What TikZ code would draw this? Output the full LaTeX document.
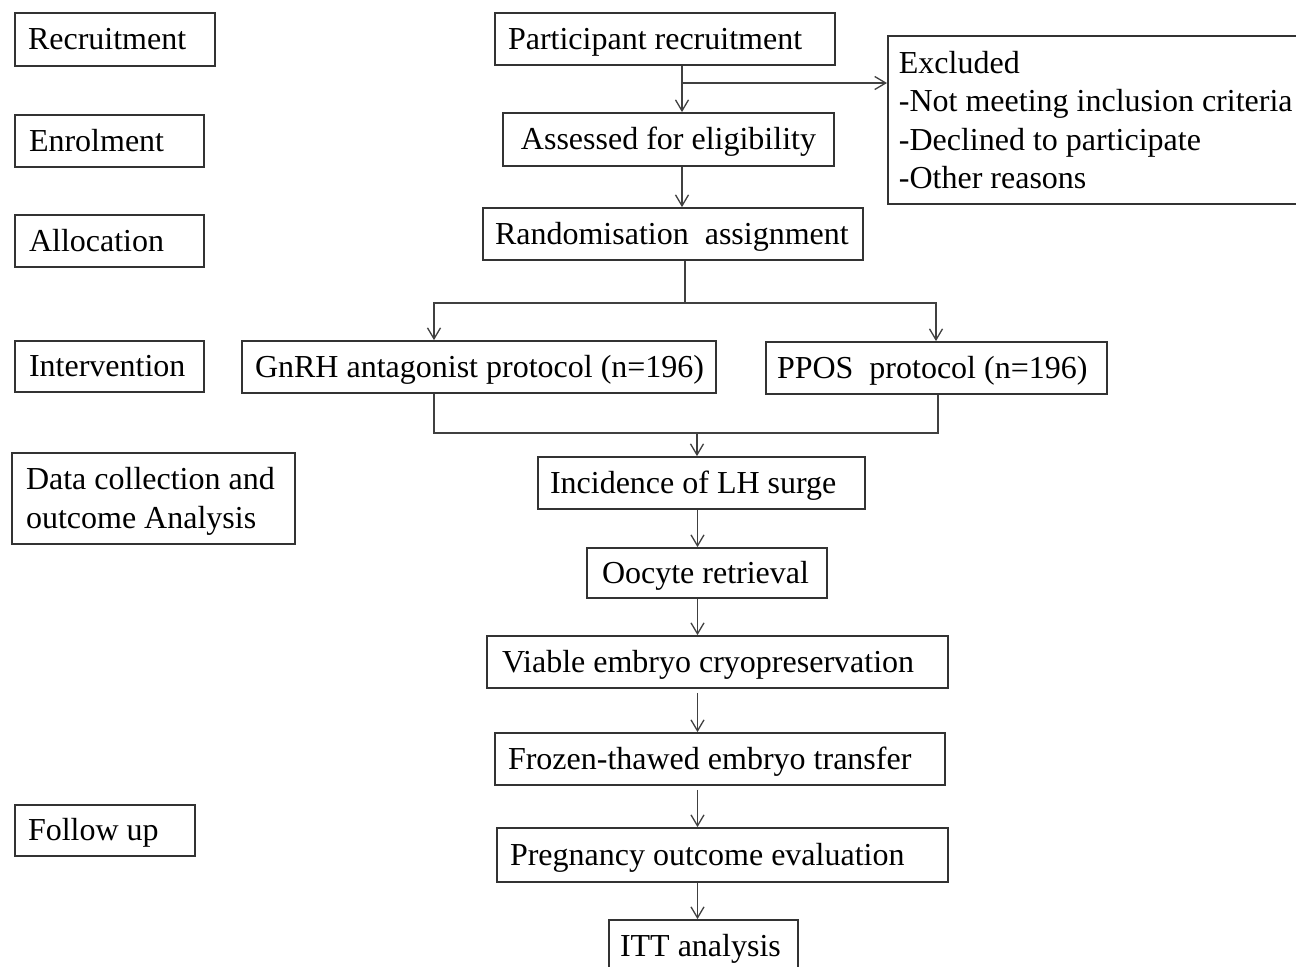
\documentclass[tikz,border=0pt]{standalone}
\usepackage{fontspec}
\setmainfont{Liberation Serif}
\usetikzlibrary{arrows.meta}
\newcommand{\boxtxt}[2]{\makebox[#1][l]{#2}}
\newcommand{\linestack}[2]{\raisebox{0pt}[\dimexpr\height+#1\relax]{\begin{tabular}[c]{@{}l@{}}#2\end{tabular}}}
\begin{document}
\begin{tikzpicture}[x=0.5pt,y=-0.5pt,
  bx/.style={draw=black!80, line width=0.9pt, inner ysep=0pt, fill=white,
    font=\fontsize{16}{19.25}\selectfont},
  sl/.style={bx, text height=11.5pt, text depth=1.5pt},
  ln/.style={draw=black!75, line width=0.65pt},
  arr/.style={ln, -{Straight Barb[length=5.5pt,width=6.5pt,line width=0.65pt]}}]
\useasboundingbox (0,0) rectangle (1296,966);
\clip (0,0) rectangle (1296,966);
\fill[white] (0,0) rectangle (1296,966);

% left column stage labels
\node[sl, minimum width=100pt, minimum height=26.5pt, inner xsep=6.5pt] (recr) at (115,39.5) {\boxtxt{87pt}{Recruitment}};
\node[sl, minimum width=94.5pt, minimum height=26pt, inner xsep=7pt] (enrol) at (109.5,141) {\boxtxt{80.5pt}{Enrolment}};
\node[sl, minimum width=94.5pt, minimum height=26pt, inner xsep=7pt] (alloc) at (109.5,241) {\boxtxt{80.5pt}{Allocation}};
\node[sl, minimum width=94.5pt, minimum height=25.5pt, inner xsep=7pt] (interv) at (109.5,366.5) {\boxtxt{80.5pt}{Intervention}};
\node[bx, minimum width=141.5pt, minimum height=45.5pt, inner xsep=7pt] (data) at (153.5,498.5) {\boxtxt{127.5pt}{\linestack{3pt}{Data collection and\\outcome Analysis}}};
\node[sl, minimum width=90pt, minimum height=25.5pt, inner xsep=6.5pt] (follow) at (105,830.5) {\boxtxt{77pt}{Follow up}};

% main flow
\node[sl, minimum width=170pt, minimum height=26pt, inner xsep=6.5pt] (part) at (665,39) {\boxtxt{157pt}{Participant recruitment}};
\node[sl, minimum width=165.5pt, minimum height=26.5pt, inner xsep=6pt] (assess) at (668.5,139.5) {Assessed for eligibility};
\node[sl, minimum width=190pt, minimum height=26pt, inner xsep=6pt] (rand) at (673,234) {\boxtxt{178pt}{Randomisation\ \ assignment}};
\node[bx, anchor=north west, minimum width=215pt, minimum height=84pt, inner xsep=5.5pt] (excl) at (887,35) {\boxtxt{204pt}{\linestack{3.5pt}{Excluded\\-Not meeting inclusion criteria\\-Declined to participate\\-Other reasons}}};
\node[sl, minimum width=237pt, minimum height=26pt, inner xsep=6.5pt] (gnrh) at (479,367) {\boxtxt{224pt}{GnRH antagonist protocol (n=196)}};
\node[sl, minimum width=170.5pt, minimum height=26pt, inner xsep=5.5pt] (ppos) at (936.5,368) {\boxtxt{159.5pt}{PPOS\ \ protocol (n=196)}};
\node[sl, minimum width=163.5pt, minimum height=26pt, inner xsep=6pt] (inc) at (701.5,483) {\boxtxt{151.5pt}{Incidence of LH surge}};
\node[sl, minimum width=120pt, minimum height=25pt, inner xsep=7.5pt] (ooc) at (707,573) {\boxtxt{105pt}{Oocyte retrieval}};
\node[sl, minimum width=230.5pt, minimum height=26pt, inner xsep=7.5pt] (viable) at (717.5,662) {\boxtxt{215.5pt}{Viable embryo cryopreservation}};
\node[sl, minimum width=225pt, minimum height=26pt, inner xsep=6.5pt] (frozen) at (720,759) {\boxtxt{212pt}{Frozen-thawed embryo transfer}};
\node[sl, minimum width=225.5pt, minimum height=27pt, inner xsep=6.5pt] (preg) at (722.5,855) {\boxtxt{212.5pt}{Pregnancy outcome evaluation}};
\node[sl, minimum width=94.5pt, minimum height=26pt, inner xsep=5.5pt] (itt) at (703.5,946) {\boxtxt{83.5pt}{ITT analysis}};

% connectors
\coordinate (c1) at (682,83);
\coordinate (c2) at (685,303);
\coordinate (gx) at (434,303);
\coordinate (px) at (936,303);
\coordinate (gb) at (434,433);
\coordinate (pb) at (938,433);
\coordinate (m) at (697,433);
\coordinate (v) at (697.5,0);

\draw[arr] (part.south -| c1) -- (assess.north -| c1);
\draw[arr] (c1) -- (c1 -| excl.west);
\draw[arr] (assess.south -| c1) -- (rand.north -| c1);
\draw[ln] (rand.south -| c2) -- (c2);
\draw[arr] (c2) -| (gnrh.north -| gx);
\draw[arr] (c2) -| (ppos.north -| px);
\draw[ln] (gnrh.south -| gb) |- (m) -| (ppos.south -| pb);
\draw[arr] (m) -- (inc.north -| m);
\draw[arr] (inc.south -| v) -- (ooc.north -| v);
\draw[arr] (ooc.south -| v) -- (viable.north -| v);
\draw[arr] ([yshift=-2pt]viable.south -| v) -- (frozen.north -| v);
\draw[arr] ([yshift=-2pt]frozen.south -| v) -- (preg.north -| v);
\draw[arr] (preg.south -| v) -- (itt.north -| v);
\end{tikzpicture}
\end{document}
